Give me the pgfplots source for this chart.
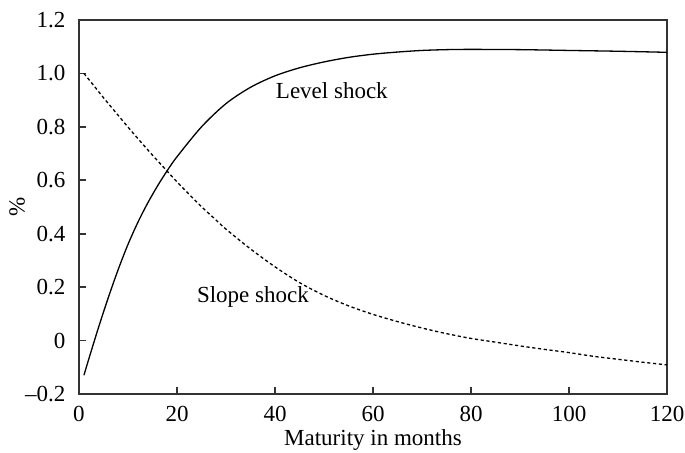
\documentclass[border=0pt]{standalone}
\usepackage{pgfplots}
\pgfplotsset{compat=1.18}
\usepackage{fontspec}
\setmainfont{Liberation Serif}
\begin{document}
\begin{tikzpicture}
\useasboundingbox (-39.5pt,-29.5pt) rectangle (303pt,197pt);
\begin{axis}[
  at={(0,0)}, anchor=south west,
  scale only axis,
  width=294pt, height=187pt,
  xmin=0, xmax=120, ymin=-0.2, ymax=1.2,
  xtick={0,20,40,60,80,100,120},
  ytick={-0.2,0,0.2,0.4,0.6,0.8,1.0,1.2},
  yticklabels={\textendash0.2,0,0.2,0.4,0.6,0.8,1.0,1.2},
  /pgf/number format/assume math mode=true,
  tick pos=left,
  tick align=inside,
  major tick length=3.5pt,
  axis line style={black!80, line width=1pt},
  every tick/.style={black!80, line width=0.8pt},
  font=\fontsize{11.5}{13}\selectfont,
  ticklabel style={font=\fontsize{11.5}{13}\selectfont},
  xticklabel style={anchor=base, yshift=-14pt},
  yticklabel style={anchor=east, xshift=-3.3pt},
  xlabel={Maturity in months},
  ylabel={\%},
  xlabel style={at={(axis description cs:0.5,-0.1364)}, anchor=base},
  ylabel style={at={(axis description cs:-0.1054,0.5)}, anchor=center},
  clip=false,
]
\addplot[black, line width=0.65pt, smooth] coordinates {
(1,-0.13) (2,-0.069) (4,0.05) (6,0.162) (8,0.266) (10,0.36) (12,0.442) (14,0.514) (16,0.578) (18,0.636) (20,0.688) (25,0.80) (30,0.887) (35,0.948) (40,0.991) (45,1.021) (50,1.043) (55,1.06) (60,1.072) (65,1.08) (70,1.086) (75,1.089) (80,1.090) (90,1.089) (100,1.086) (110,1.083) (120,1.079)
};
\addplot[black, line width=0.65pt, dash pattern=on 1.6pt off 1.3pt, smooth] coordinates {
(1,1.0) (3,0.955) (5,0.909) (7.5,0.854) (10,0.799) (12.5,0.746) (15,0.694) (17.5,0.644) (20,0.594) (22.5,0.547) (25,0.501) (27.5,0.459) (30,0.417) (35,0.343) (40,0.276) (45,0.217) (50,0.169) (55,0.130) (60,0.098) (65,0.071) (70,0.047) (75,0.026) (80,0.008) (85,-0.006) (90,-0.02) (95,-0.033) (100,-0.045) (105,-0.059) (110,-0.07) (115,-0.081) (120,-0.091)
};
\node[anchor=base, font=\fontsize{11.5}{13}\selectfont] at (axis cs:51.6,0.905) {Level shock};
\node[anchor=base, font=\fontsize{11.5}{13}\selectfont] at (axis cs:35.5,0.141) {Slope shock};
\end{axis}
\end{tikzpicture}
\end{document}
